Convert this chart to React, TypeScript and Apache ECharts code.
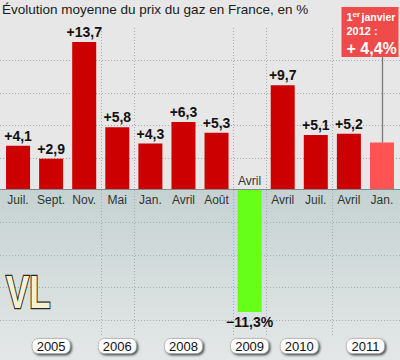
import React, { useEffect, useRef } from "react";
import * as echarts from "echarts";

const title = "Évolution moyenne du prix du gaz en France, en %";
const categories = ["Juil.", "Sept.", "Nov.", "Mai", "Jan.", "Avril", "Août", "Avril", "Avril", "Juil.", "Avril", "Jan."];
const values = [4.1, 2.9, 13.7, 5.8, 4.3, 6.3, 5.3, -11.3, 9.7, 5.1, 5.2, 4.4];
const years = ["2005", "2006", "2008", "2009", "2010", "2011"];
const yearStart = [0, 3, 4, 7, 8, 10];
const yearEnd = [2, 3, 6, 7, 9, 11];
const dividerAfter = [2, 3, 6, 7, 9];
const gridValues = [-12, -9, -6, -3, 3, 6, 9, 12];
const annotationDate = ["1", "er", "janvier", "2012 :"];

const Y_MIN = -15;
const Y_MAX = 15;
const NEG_INDEX = 7;
const LAST_INDEX = 11;
const FONT = "'Liberation Sans', Arial, sans-serif";

const fmt = (v: number) => (v > 0 ? "+" : "\u2212") + Math.abs(v).toFixed(1).replace(".", ",");

export default function App() {
  const ref = useRef<HTMLDivElement>(null);
  useEffect(() => {
    if (!ref.current) return;
    const chart = echarts.init(ref.current, null, { renderer: "svg" });

    const barData = values.map((v, i) => {
      const item: any = {
        value: v,
        itemStyle: { color: i === NEG_INDEX ? "#66ff1a" : i === LAST_INDEX ? "#ff5252" : "#cc0000" },
      };
      if (i === NEG_INDEX) item.label = { position: "bottom", distance: 3, formatter: fmt(v) + "%" };
      if (i === LAST_INDEX) item.label = { show: false };
      return item;
    });

    const txt = (extra: any) => ({
      align: "left",
      textAlign: "left",
      verticalAlign: "middle",
      textVerticalAlign: "middle",
      fill: "#fff",
      fontWeight: "bold",
      fontFamily: FONT,
      ...extra,
    });

    const option: any = {
      animation: false,
      backgroundColor: "#e7e7e7",
      title: {
        text: title,
        left: 2,
        top: 2,
        padding: 0,
        textStyle: { fontSize: 13.5, fontWeight: "normal", color: "#1a1a1a", fontFamily: FONT },
      },
      grid: { left: 1.5, right: 1.5, top: 28, bottom: 8, containLabel: false, outerBoundsMode: "none" },
      xAxis: {
        type: "category",
        data: categories,
        axisTick: { show: false },
        axisLine: { show: false },
        axisLabel: { show: false },
      },
      yAxis: {
        type: "value",
        min: Y_MIN,
        max: Y_MAX,
        interval: 3,
        axisLine: { show: false },
        axisTick: { show: false },
        axisLabel: { show: false },
        splitLine: { show: false },
      },
      graphic: [
        {
          type: "text",
          x: 6,
          y: 269,
          scaleX: 0.74,
          z: 20,
          style: {
            text: "VL",
            fontSize: 47,
            fontWeight: 900,
            fontFamily: FONT,
            fill: "#f4f0d0",
            stroke: "#262626",
            lineWidth: 2.5,
          },
        },
      ],
      series: [
        {
          type: "custom",
          z: 0,
          silent: true,
          data: [[0, 0]],
          encode: { x: 0, y: 1 },
          renderItem: (params: any, api: any) => {
            const y0 = api.coord([0, 0])[1];
            const h = api.getHeight();
            const w = api.getWidth();
            return {
              type: "rect",
              shape: { x: 0, y: y0, width: w, height: h - y0 },
              style: {
                fill: new echarts.graphic.LinearGradient(0, 0, 0, 1, [
                  { offset: 0, color: "#c5d2d2" },
                  { offset: 1, color: "#e4e7e7" },
                ]),
              },
            };
          },
        },
        {
          type: "custom",
          z: 1,
          silent: true,
          data: gridValues.map((v) => [0, v]),
          encode: { x: 0, y: 1 },
          renderItem: (params: any, api: any) => {
            const y = Math.round(api.coord([0, api.value(1)])[1]) + 0.5;
            return {
              type: "line",
              shape: { x1: 0, y1: y, x2: api.getWidth(), y2: y },
              style: { stroke: "#a3abab", lineWidth: 1, lineDash: [1, 2] },
            };
          },
        },
        {
          type: "custom",
          z: 1,
          silent: true,
          data: dividerAfter.map((i) => [i, 0]),
          encode: { x: 0, y: 1 },
          renderItem: (params: any, api: any) => {
            const i = api.value(0);
            const x = Math.round((api.coord([i, 0])[0] + api.coord([i + 1, 0])[0]) / 2) + 0.5;
            const yTop = api.coord([i, Y_MAX])[1];
            const yBot = api.coord([i, -13.5])[1];
            return {
              type: "line",
              shape: { x1: x, y1: yTop, x2: x, y2: yBot },
              style: { stroke: "#a3abab", lineWidth: 1, lineDash: [1, 2] },
            };
          },
        },
        {
          type: "bar",
          z: 3,
          barWidth: 24,
          data: barData,
          label: {
            show: true,
            position: "top",
            distance: 3,
            color: "#111",
            fontSize: 14,
            fontWeight: "bold",
            fontFamily: FONT,
            formatter: (p: any) => fmt(p.value),
          },
        },
        {
          // zero axis line and month labels
          type: "custom",
          z: 5,
          silent: true,
          data: categories.map((c, i) => [i, 0]),
          encode: { x: 0, y: 1 },
          renderItem: (params: any, api: any) => {
            const i = params.dataIndex;
            const p = api.coord([api.value(0), 0]);
            const y0 = Math.round(p[1]) - 0.5;
            const children: any[] = [];
            if (i === 0) {
              children.push({
                type: "line",
                shape: { x1: 0, y1: y0, x2: api.getWidth(), y2: y0 },
                style: { stroke: "#7f8c8c", lineWidth: 1 },
              });
            }
            const below = i !== NEG_INDEX;
            children.push({
              type: "text",
              style: {
                text: categories[i],
                x: p[0],
                y: below ? y0 + 4 : y0 - 3,
                fontSize: 12,
                fontFamily: FONT,
                fill: "#333",
                align: "center",
                textAlign: "center",
                verticalAlign: below ? "top" : "bottom",
                textVerticalAlign: below ? "top" : "bottom",
              },
            });
            return { type: "group", children };
          },
        },
        {
          type: "custom",
          z: 6,
          silent: true,
          data: [[LAST_INDEX, values[LAST_INDEX]]],
          encode: { x: 0, y: 1 },
          renderItem: (params: any, api: any) => {
            const p = api.coord([api.value(0), api.value(1)]);
            const x = Math.round(p[0]) + 0.5;
            const boxL = x - 41;
            const boxR = Math.min(x + 16, api.getWidth() - 1);
            const boxT = 7;
            const boxB = 57;
            const tx = boxL + 5;
            return {
              type: "group",
              children: [
                {
                  type: "line",
                  shape: { x1: x, y1: boxB, x2: x, y2: p[1] },
                  style: { stroke: "#7a7a7a", lineWidth: 1.3 },
                },
                {
                  type: "rect",
                  shape: { x: boxL, y: boxT, width: boxR - boxL, height: boxB - boxT },
                  style: { fill: "#ef4b4b" },
                },
                { type: "text", style: txt({ text: annotationDate[0], x: tx, y: boxT + 10, fontSize: 11 }) },
                { type: "text", style: txt({ text: annotationDate[1], x: tx + 6, y: boxT + 7, fontSize: 8 }) },
                { type: "text", style: txt({ text: annotationDate[2], x: tx + 15, y: boxT + 10, fontSize: 10.5 }) },
                { type: "text", style: txt({ text: annotationDate[3], x: tx, y: boxT + 24, fontSize: 11 }) },
                {
                  type: "text",
                  style: txt({
                    text: "+ " + Math.abs(values[LAST_INDEX]).toFixed(1).replace(".", ",") + "%",
                    x: tx,
                    y: boxT + 41,
                    fontSize: 16,
                  }),
                },
              ],
            };
          },
        },
        {
          type: "custom",
          z: 6,
          silent: true,
          data: years.map((y, k) => [yearStart[k], 0, yearEnd[k]]),
          encode: { x: 0, y: 1 },
          renderItem: (params: any, api: any) => {
            const k = params.dataIndex;
            const xs = api.coord([yearStart[k], 0])[0];
            const xe = api.coord([yearEnd[k], 0])[0];
            const cx = (xs + xe) / 2;
            const cy = api.getHeight() - 14;
            return {
              type: "group",
              children: [
                {
                  type: "rect",
                  shape: { x: cx - 19, y: cy - 7.5, width: 38, height: 15, r: 6 },
                  style: {
                    fill: "#fff",
                    stroke: "#8a8a8a",
                    lineWidth: 0.5,
                    shadowBlur: 2,
                    shadowOffsetX: 1.5,
                    shadowOffsetY: 1.5,
                    shadowColor: "rgba(0,0,0,0.7)",
                  },
                },
                {
                  type: "text",
                  style: {
                    text: years[k],
                    x: cx,
                    y: cy,
                    fontSize: 13,
                    fontFamily: FONT,
                    fill: "#111",
                    align: "center",
                    textAlign: "center",
                    verticalAlign: "middle",
                    textVerticalAlign: "middle",
                  },
                },
              ],
            };
          },
        },
      ],
    };
    chart.setOption(option);
    return () => chart.dispose();
  }, []);
  return (
    <div
      ref={ref}
      style={{ position: "fixed", left: 0, top: 0, width: 400, height: 360 }}
    />
  );
}
